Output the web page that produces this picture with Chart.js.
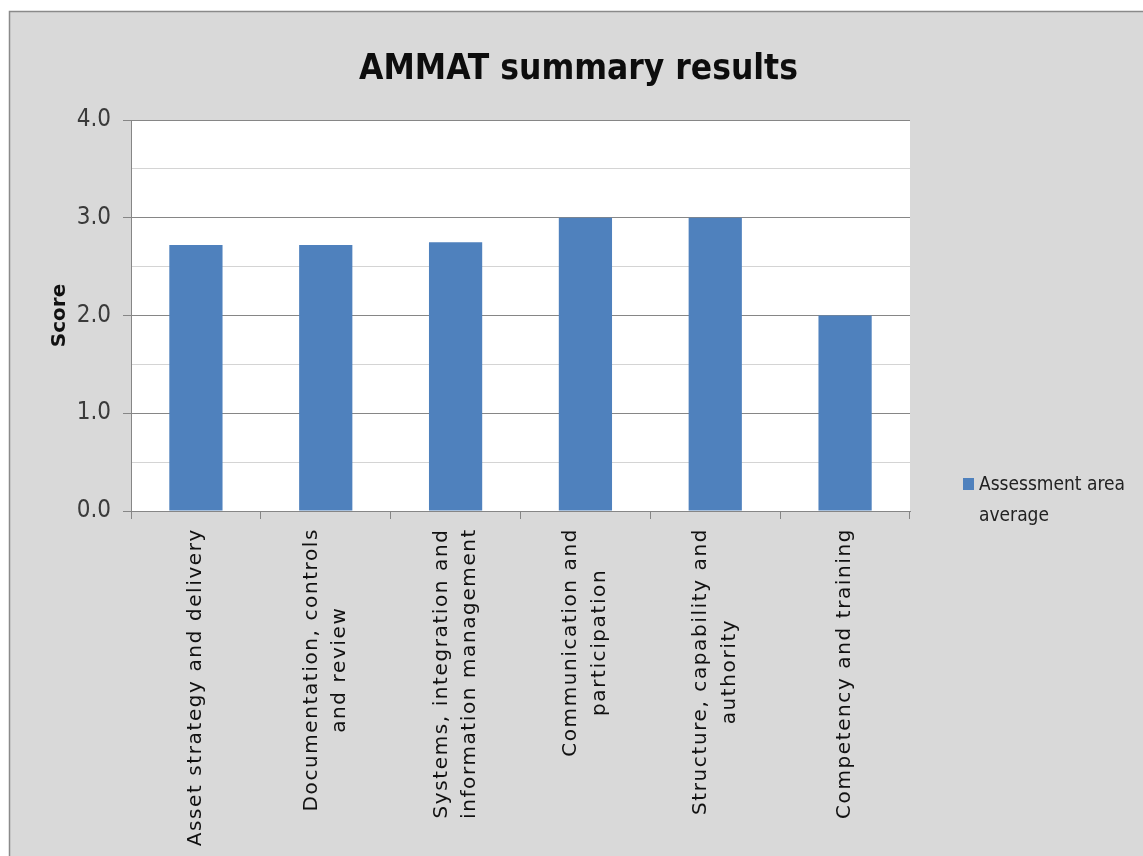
<!DOCTYPE html>
<html><head><meta charset="utf-8">
<script src="https://cdn.jsdelivr.net/npm/chart.js@4.4.1/dist/chart.umd.min.js"></script>
<style>html,body{margin:0;padding:0;background:#fff;overflow:hidden;} canvas{display:block;}</style>
</head><body>
<canvas id="c" width="1143" height="856" style="width:1143px;height:856px"></canvas>
<script>
// ---- data ----
const categories = [
  ["Asset strategy and delivery"],
  ["Documentation, controls", "and review"],
  ["Systems, integration and", "information management"],
  ["Communication and", "participation"],
  ["Structure, capability and", "authority"],
  ["Competency and training"]
];
const seriesName = "Assessment area average";
const legendLines = ["Assessment area", "average"];
const scores = [2.72, 2.72, 2.75, 3.0, 3.0, 2.0];
const yMin = 0, yMax = 4, yStep = 0.5;
const chartTitle = "AMMAT summary results";
const yAxisTitle = "Score";

// ---- styles ----
const BAR = '#4f81bd';
const AXIS = '#868686';
const MINOR = '#d4d4d4';
const BG = '#d9d9d9';
const NARROW = "'Liberation Sans Narrow','DejaVu Sans Condensed','Arial Narrow',sans-serif";
const isInt = v => Math.abs(v - Math.round(v)) < 1e-6;

const bgPlugin = {
  id: 'bg',
  beforeDraw(chart) {
    const {ctx, width, height, chartArea: a} = chart;
    ctx.save();
    ctx.fillStyle = '#fff';
    ctx.fillRect(0, 0, width, height);
    ctx.fillStyle = BG;
    ctx.fillRect(9, 11, width, height);
    ctx.strokeStyle = '#8a8a8a';
    ctx.lineWidth = 1.5;
    ctx.strokeRect(9.5, 11.5, width + 10, height + 10);
    ctx.fillStyle = '#fff';
    ctx.fillRect(a.left, a.top, a.right - a.left, a.bottom - a.top);
    ctx.restore();
  }
};

const xLabelPlugin = {
  id: 'xlabels',
  afterDraw(chart) {
    const {ctx} = chart;
    const xs = chart.scales.x;
    ctx.save();
    ctx.font = '20px "DejaVu Sans"';
    try { ctx.letterSpacing = '1.6px'; } catch (e) {}
    ctx.fillStyle = '#111';
    ctx.textAlign = 'center';
    ctx.textBaseline = 'middle';
    const lh = 28.5;
    categories.forEach((lines, i) => {
      const x = xs.getPixelForTick(i);
      const maxW = Math.max(...lines.map(l => ctx.measureText(l).width));
      const cy = xs.top + 17 + maxW / 2;
      ctx.save();
      ctx.translate(x, cy);
      ctx.rotate(-Math.PI / 2);
      lines.forEach((l, j) => {
        ctx.fillText(l, 0, (j - (lines.length - 1) / 2) * lh);
      });
      ctx.restore();
    });
    ctx.restore();
  }
};

const legendPlugin = {
  id: 'customLegend',
  afterDraw(chart) {
    const {ctx, chartArea: a} = chart;
    const x0 = a.right + 53, y0 = a.bottom - 33;
    ctx.save();
    ctx.fillStyle = BAR;
    ctx.fillRect(x0, y0, 11, 12);
    ctx.fillStyle = '#222';
    ctx.font = '19px ' + NARROW;
    ctx.textAlign = 'left';
    ctx.textBaseline = 'middle';
    legendLines.forEach((l, j) => ctx.fillText(l, x0 + 16, y0 + 7 + j * 31));
    ctx.restore();
  }
};

new Chart(document.getElementById('c'), {
  type: 'bar',
  data: {
    labels: categories,
    datasets: [{
      label: seriesName,
      data: scores,
      backgroundColor: BAR,
      borderWidth: 0,
      barPercentage: 0.41,
      categoryPercentage: 1.0,
      xAxisID: 'x',
      yAxisID: 'y'
    }]
  },
  options: {
    responsive: false,
    animation: false,
    devicePixelRatio: 1,
    layout: {padding: {left: 14, right: 0, top: 0, bottom: 0}},
    plugins: {
      legend: {display: false},
      tooltip: {enabled: false},
      title: {
        display: true,
        text: chartTitle,
        color: '#0d0d0d',
        font: {family: NARROW, size: 35, weight: 'bold', lineHeight: 1.2},
        padding: {top: 48.5, bottom: 29.5}
      }
    },
    scales: {
      x: {
        type: 'category',
        offset: true,
        ticks: {display: false},
        grid: {display: true, offset: true, drawOnChartArea: false, drawTicks: true, tickLength: 8, color: AXIS},
        border: {display: true, color: AXIS, width: 1},
        afterFit(s) { s.height = 345; }
      },
      y: {
        type: 'linear',
        position: 'left',
        min: yMin, max: yMax,
        ticks: {
          stepSize: yStep,
          padding: 12,
          color: '#3a3a3a',
          font: {family: NARROW, size: 24},
          callback: v => isInt(v) ? Number(v).toFixed(1) : ''
        },
        grid: {
          color: c => isInt(c.tick.value) ? AXIS : MINOR,
          tickColor: c => isInt(c.tick.value) ? AXIS : 'rgba(0,0,0,0)',
          tickLength: 8,
          lineWidth: 1
        },
        border: {display: true, color: AXIS, width: 1},
        title: {
          display: true,
          text: yAxisTitle,
          color: '#111',
          font: {family: "'DejaVu Sans'", size: 20, weight: 'bold', lineHeight: 1.2},
          padding: {top: 34, bottom: 0}
        },
        afterFit(s) { s.width = 117; }
      },
      r: {
        type: 'linear',
        position: 'right',
        display: true,
        grid: {display: false, drawTicks: false},
        border: {display: false},
        ticks: {display: false},
        afterFit(s) { s.width = 233; }
      }
    }
  },
  plugins: [bgPlugin, xLabelPlugin, legendPlugin]
});
</script>
</body></html>
